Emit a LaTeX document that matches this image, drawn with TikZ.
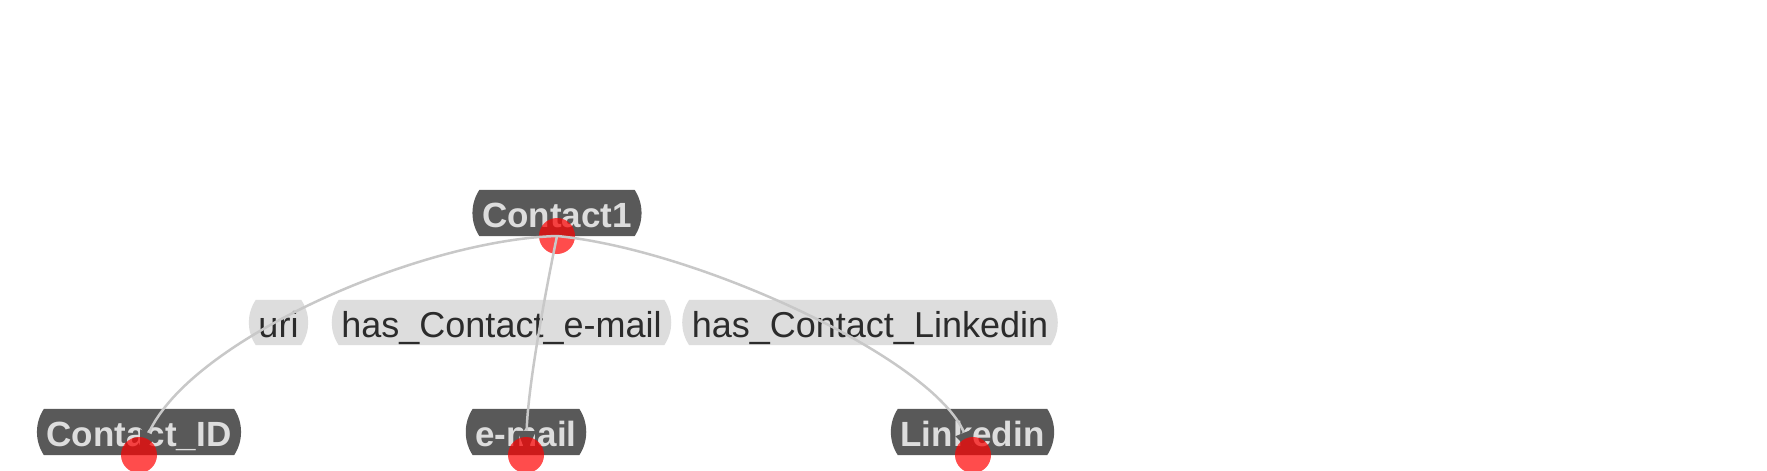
\documentclass[tikz,border=0pt]{standalone}
\usepackage{fontspec}
\setmainfont{Liberation Sans}
\usetikzlibrary{arrows.meta}
\definecolor{boxgray}{HTML}{595959}
\definecolor{boxtext}{HTML}{DDDDDD}
\definecolor{lblbg}{HTML}{DDDDDD}
\definecolor{lbltext}{HTML}{2B2B2B}
\definecolor{edgegray}{HTML}{C8C8C8}
\pgfdeclarelayer{background}
\pgfsetlayers{background,main}
\newcommand\pillbg[2]{%
  \begin{pgfonlayer}{background}
  \fill[#2] (#1.north west) -- (#1.north east)
     .. controls +(9.3,14) and +(9.3,-14) .. (#1.south east)
     -- (#1.south west)
     .. controls +(-9.3,-14) and +(-9.3,14) .. (#1.north west) -- cycle;
  \end{pgfonlayer}}
\tikzset{
  entity/.style={rectangle, text=boxtext, font=\fontsize{35}{40}\selectfont\bfseries,
    minimum height=46pt, inner xsep=2.5pt, inner ysep=0pt, text height=30pt, text depth=2pt},
  edgelabel/.style={rectangle, text=lbltext, font=\fontsize{36}{40}\selectfont,
    minimum height=45pt, inner xsep=2.5pt, inner ysep=0pt, text height=31pt, text depth=1.5pt},
  dot/.style={circle, fill=red, fill opacity=0.7, draw=none, minimum size=36pt, inner sep=0pt},
  link/.style={draw=edgegray, line width=2.5pt, shorten >=2pt,
    -{Triangle[length=22pt,width=18pt,color=boxgray]}}
}
\begin{document}
\begin{tikzpicture}[x=1pt,y=-1pt]
\begin{pgfonlayer}{background}
\fill[white] (0,0) rectangle (1767,471);
\end{pgfonlayer}
\useasboundingbox (0,0) rectangle (1767,471);
% edge labels
\node[edgelabel] (l1) at (278.5,322.5) {uri};
\node[edgelabel] (l2) at (501.5,322.5) {has\_Contact\_e-mail};
\node[edgelabel] (l3) at (870,322.5) {has\_Contact\_Linkedin};
\pillbg{l1}{lblbg}
\pillbg{l2}{lblbg}
\pillbg{l3}{lblbg}
% entity boxes
\node[entity] (c1) at (557,213) {Contact1};
\node[entity] (cid) at (139,432) {Contact\_ID};
\node[entity] (mail) at (526,432) {e-mail};
\node[entity] (lin) at (972.5,432) {Linkedin};
\pillbg{c1}{boxgray}
\pillbg{cid}{boxgray}
\pillbg{mail}{boxgray}
\pillbg{lin}{boxgray}
% anchor points
\coordinate (p1) at (557,236);
\coordinate (pid) at (139,455);
\coordinate (pmail) at (526,455);
\coordinate (plin) at (973,455);
% source dot
\node[dot] (d1) at (p1) {};
% edges
\draw[link] (p1) .. controls +(-137,4) and +(51,-115) .. (pid);
\draw[link] (p1) .. controls +(-7,34) and +(2,-75) .. (pmail);
\draw[link] (p1) .. controls +(143,14) and +(-38,-95) .. (plin);
% target dots
\node[dot] (did) at (pid) {};
\node[dot] (dmail) at (pmail) {};
\node[dot] (dlin) at (plin) {};
\end{tikzpicture}
\end{document}
